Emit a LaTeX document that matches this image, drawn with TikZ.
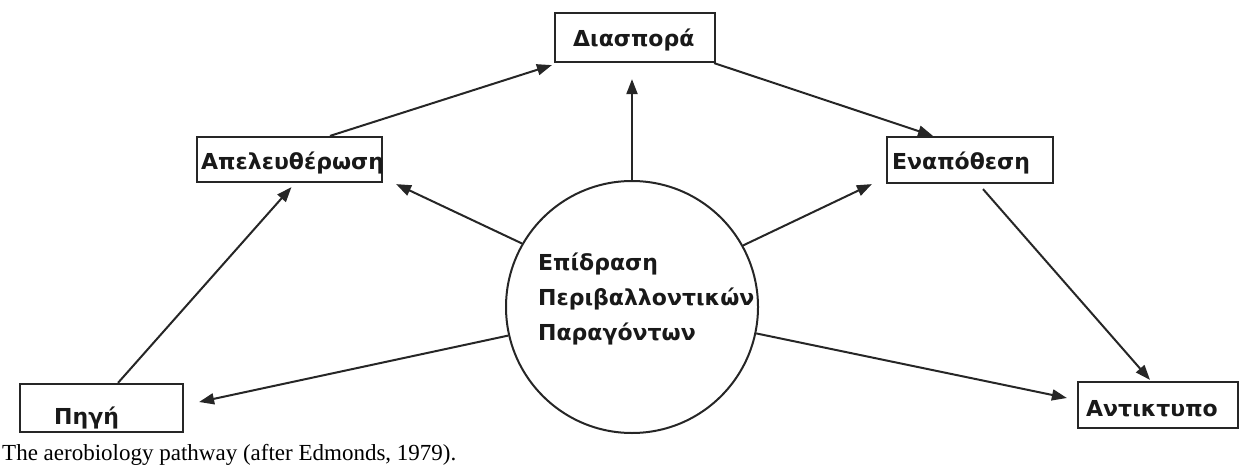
\documentclass[tikz,border=0pt]{standalone}
\usepackage{fontspec}
\setmainfont{Liberation Serif}
\newfontfamily\boxfont{DejaVu Sans}
\usetikzlibrary{arrows.meta,calc}
\begin{document}
\begin{tikzpicture}[x=1pt,y=-1pt,
  box/.style={draw=black!85,line width=2.2pt,rectangle,inner sep=0pt},
  lab/.style={anchor=base west,inner sep=0pt,font=\boxfont\bfseries\fontsize{22}{26}\selectfont,text=black!90},
  conn/.style={draw=black!85,line width=2pt,-{Triangle[length=15pt,width=11pt]}}]
\useasboundingbox (0,0) rectangle (1239,471);
% boxes
\node[box,minimum width=160pt,minimum height=49pt] (disp) at (635,37.5) {};
\node[box,minimum width=185pt,minimum height=45pt] (apel) at (289.5,159.5) {};
\node[box,minimum width=166pt,minimum height=46pt] (enap) at (970,160) {};
\node[box,minimum width=163pt,minimum height=48pt] (pigi) at (101.5,408) {};
\node[box,minimum width=160pt,minimum height=46pt] (antik) at (1158,405) {};
\node[draw=black!85,line width=2pt,circle,minimum size=252pt,inner sep=0pt] (circ) at (632,307) {};
% labels
\node[lab] (tdisp) at (573,46) {Διασπορά};
\node[lab] (tapel) at (201,169) {Απελευθέρωση};
\node[lab] (tenap) at (892,169) {Εναπόθεση};
\node[lab] (tpigi) at (54,424) {Πηγή};
\node[lab] (tantik) at (1086,416) {Αντικτυπο};
\node[anchor=north west,inner sep=0pt,align=left,font=\boxfont\bfseries\fontsize{22}{35}\selectfont,text=black!90] (tcirc) at (538,253) {Επίδραση\\Περιβαλλοντικών\\Παραγόντων};
\node[anchor=base west,inner sep=0pt,font=\fontsize{23}{27}\selectfont] (cap) at (2,460) {The aerobiology pathway (after Edmonds, 1979).};
% connectors
\draw[conn] ($(pigi.north)+(16.5,0)$) -- ($(apel.south)+(2,4)$);
\draw[conn] ($(apel.north)+(40.5,0)$) -- ($(disp.south west)+(-2,2)$);
\draw[conn] ($(disp.south east)+(-2,0)$) -- ($(enap.north)+(-37,0)$);
\draw[conn] ($(enap.south)+(13,5)$) -- ($(antik.north)+(-8,-1)$);
\draw[conn] (circ.90) -- ($(disp.south)+(-3,16)$);
\draw[conn] (circ.150.4) -- ($(apel.south east)+(13,1)$);
\draw[conn] (circ.29) -- ($(enap.south west)+(-14,0)$);
\draw[conn] (circ.193.6) -- ($(pigi.east)+(15,-6)$);
\draw[conn] (circ.-12.3) -- ($(antik.west)+(-10,-7)$);
\end{tikzpicture}
\end{document}
